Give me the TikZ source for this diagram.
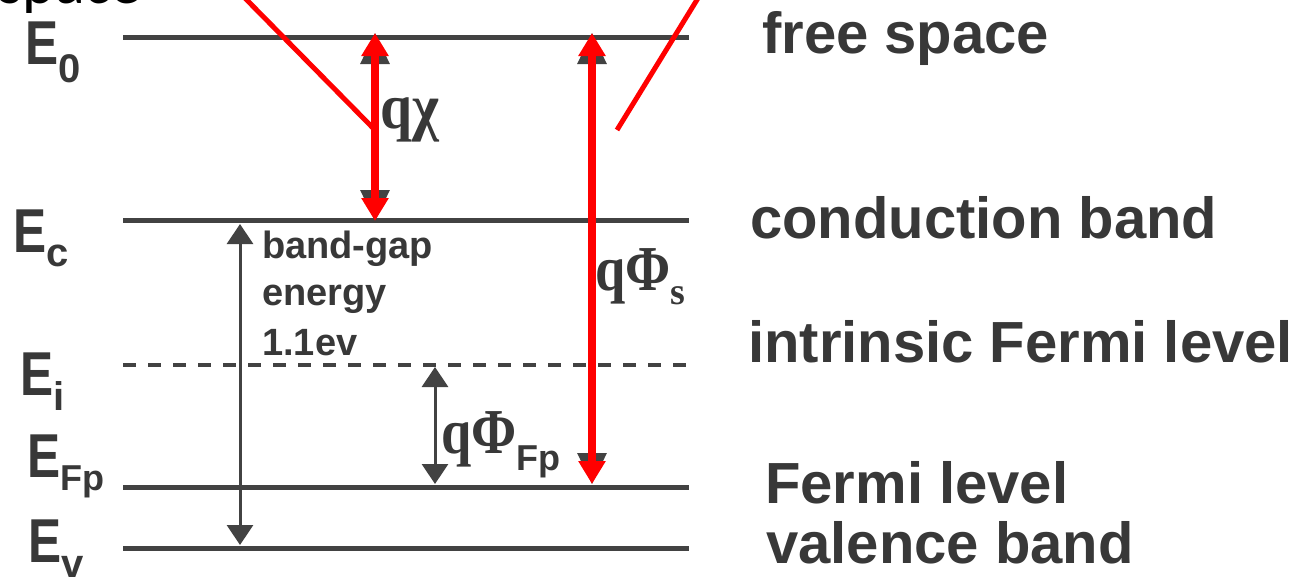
\documentclass[tikz,border=0pt]{standalone}
\usepackage{fontspec}
\setmainfont{Liberation Sans}
\newfontfamily\sansfam{Liberation Sans}
\newfontfamily\seriffam{Liberation Serif}
\newfontfamily\califam{Carlito}
\usetikzlibrary{arrows.meta}
\definecolor{inkgray}{HTML}{383838}
\definecolor{linegray}{HTML}{424242}
\definecolor{redline}{HTML}{FF0000}
\newcommand{\rfont}{\sansfam\bfseries\fontsize{58}{60}\selectfont}
\newcommand{\bgfont}{\sansfam\bfseries\fontsize{38}{40}\selectfont}
\newcommand{\qfont}{\seriffam\bfseries\fontsize{64}{66}\selectfont}
\newcommand{\Elab}[3]{{\sansfam\bfseries\fontsize{62}{62}\selectfont\scalebox{0.8}[1]{E}}\raisebox{-#3pt}{\sansfam\bfseries\fontsize{40}{40}\selectfont #1}}
\begin{document}
\begin{tikzpicture}[x=1pt,y=-1pt,
  level/.style={draw=linegray,line width=5pt,line cap=butt},
  dlevel/.style={draw=linegray,line width=4pt,dash pattern=on 13pt off 12pt},
  blackarrow/.style={draw=linegray,line width=3pt,{Triangle[width=26pt,length=20pt]}-{Triangle[width=26pt,length=20pt]}},
  grayunder/.style={draw=linegray,line width=3pt,{Triangle[width=29pt,length=31pt]}-{Triangle[width=29pt,length=31pt]}},
  redarrow/.style={draw=redline,line width=8pt,{Triangle[width=26pt,length=23pt]}-{Triangle[width=26pt,length=23pt]}},
  redpointer/.style={draw=redline,line width=5pt},
  rlabel/.style={anchor=base west,inner sep=0pt,text=inkgray,font=\rfont},
  bglabel/.style={anchor=base west,inner sep=0pt,text=inkgray,font=\bgfont},
  qlabel/.style={anchor=base west,inner sep=0pt,text=inkgray},
  elabel/.style={anchor=base west,inner sep=0pt,text=inkgray}]
\useasboundingbox (0,0) rectangle (1309,576);
\clip (0,0) rectangle (1309,576);
\fill[white] (0,0) rectangle (1309,576);

% level coordinates
\coordinate (L0a) at (123,37);  \coordinate (L0b) at (689,37);
\coordinate (Lca) at (123,220); \coordinate (Lcb) at (689,220);
\coordinate (Lia) at (123,365); \coordinate (Lib) at (686,365);
\coordinate (Lfa) at (123,487); \coordinate (Lfb) at (689,487);
\coordinate (Lva) at (123,548); \coordinate (Lvb) at (689,548);

\draw[level] (L0a) -- (L0b);
\draw[level] (Lca) -- (Lcb);
\draw[dlevel] (Lia) -- (Lib);
\draw[level] (Lfa) -- (Lfb);
\draw[level] (Lva) -- (Lvb);

% black arrows
\coordinate (bgT) at (240,224); \coordinate (bgB) at (240,545);
\draw[blackarrow] (bgT) -- (bgB);
\coordinate (fpT) at (435,367); \coordinate (fpB) at (435,484);
\draw[blackarrow] (fpT) -- (fpB);

% red arrows (with original gray heads beneath)
\coordinate (chiT) at (375,33); \coordinate (chiB) at (375,221);
\coordinate (phsT) at (592,33); \coordinate (phsB) at (592,484);
\draw[grayunder] (chiT) -- (chiB);
\draw[grayunder] (phsT) -- (phsB);
\draw[redarrow] (chiT) -- (chiB);
\draw[redarrow] (phsT) -- (phsB);

% red pointer lines
\coordinate (p1a) at (237,-10); \coordinate (p1b) at (373,128);
\coordinate (p2a) at (703,-10); \coordinate (p2b) at (617,130);
\draw[redpointer] (p1a) -- (p1b);
\draw[redpointer] (p2a) -- (p2b);

% top-left cut text
\node[anchor=base east,inner sep=0pt,font=\califam\fontsize{62}{62}\selectfont] (spc) at (142,3) {space};

% left energy labels
\node[elabel] (E0) at (25,64) {\Elab{0}{}{18}};
\node[elabel] (Ec) at (13,252) {\Elab{c}{}{14}};
\node[elabel] (Ei) at (20,395) {\Elab{i}{}{15}};
\node[elabel] (EF) at (27,477) {\Elab{\fontsize{36}{36}\selectfont Fp}{}{13}};
\node[elabel] (Ev) at (28,562) {\Elab{v}{}{15}};

% band-gap text
\node[bglabel] (bg1) at (262,258) {band-gap};
\node[bglabel] (bg2) at (262,305) {energy};
\node[bglabel] (bg3) at (262,355) {1.1ev};

% q labels
\node[qlabel] (qchi) at (380,128) {\qfont\scalebox{0.9}[1]{q\char"03C7}};
\node[qlabel] (qphs) at (595,290) {\qfont\scalebox{0.85}[1]{q\char"03A6}\raisebox{-14pt}{\seriffam\bfseries\fontsize{38}{38}\selectfont s}};
\node[qlabel] (qphf) at (441,453) {\qfont\scalebox{0.85}[1]{q\char"03A6}\raisebox{-17pt}{\sansfam\bfseries\fontsize{36}{36}\selectfont Fp}};

% right labels
\node[rlabel] (t0) at (762,53) {free space};
\node[rlabel] (tc) at (750,238) {conduction band};
\node[rlabel] (ti) at (748,362) {intrinsic Fermi level};
\node[rlabel] (tf) at (765,503) {Fermi level};
\node[rlabel] (tv) at (766,563) {valence band};
\end{tikzpicture}
\end{document}
